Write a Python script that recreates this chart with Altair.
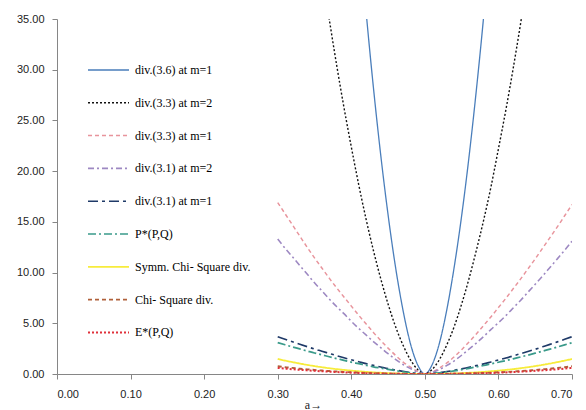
import altair as alt
import pandas as pd

# x positions (a)
a_vals = [round(0.30 + 0.01 * i, 2) for i in range(41)]

series_names = [
    "div.(3.6) at m=1",
    "div.(3.3) at m=2",
    "div.(3.3) at m=1",
    "div.(3.1) at m=2",
    "div.(3.1) at m=1",
    "P*(P,Q)",
    "Symm. Chi- Square div.",
    "Chi- Square div.",
    "E*(P,Q)",
]

N = None
div36_m1 = [N, N, N, N, N, N, N, N, N, N, N,
            44.0, 35.8, 28.3, 21.6, 15.7, 10.6, 6.4, 3.1, 0.94, 0.0,
            0.94, 3.1, 6.4, 10.6, 15.6, 21.4, 28.0, 35.3, 43.5,
            N, N, N, N, N, N, N, N, N, N, N]
div33_m2 = [N, N, N, N, N, 44.5, 39.7, 35.0, 30.5, 26.3, 22.4,
            18.7, 15.3, 12.2, 9.4, 6.9, 4.7, 2.9, 1.45, 0.45, 0.0,
            0.45, 1.45, 2.9, 4.7, 6.9, 9.4, 12.2, 15.2, 18.5, 22.2,
            26.0, 30.1, 34.5, 39.2, 44.0, N, N, N, N, N]
div33_m1 = [16.9, 15.8, 14.7, 13.6, 12.5, 11.45, 10.45, 9.45, 8.5, 7.6,
            6.7, 5.8, 4.95, 4.1, 3.3, 2.55, 1.85, 1.2, 0.7, 0.26, 0.0,
            0.2, 0.6, 1.1, 1.7, 2.4, 3.15, 3.95, 4.8, 5.65, 6.55,
            7.45, 8.4, 9.35, 10.35, 11.35, 12.4, 13.45, 14.5, 15.6, 16.7]
div31_m2 = [13.3, 12.4, 11.55, 10.7, 9.85, 9.0, 8.2, 7.4, 6.65, 5.95,
            5.2, 4.5, 3.85, 3.2, 2.6, 2.0, 1.45, 0.95, 0.55, 0.2, 0.0,
            0.15, 0.45, 0.85, 1.3, 1.85, 2.45, 3.05, 3.7, 4.4, 5.05,
            5.75, 6.5, 7.25, 8.05, 8.85, 9.65, 10.5, 11.35, 12.2, 13.1]
div31_m1 = [3.68, 3.42, 3.18, 2.94, 2.7, 2.46, 2.25, 2.03, 1.81, 1.6,
            1.4, 1.21, 1.02, 0.85, 0.69, 0.53, 0.39, 0.26, 0.15, 0.06, 0.0,
            0.05, 0.13, 0.24, 0.37, 0.51, 0.66, 0.83, 1.0, 1.19, 1.38,
            1.57, 1.78, 2.0, 2.21, 2.44, 2.68, 2.92, 3.17, 3.42, 3.68]
p_star = [3.1, 2.88, 2.67, 2.47, 2.27, 2.07, 1.89, 1.7, 1.52, 1.35,
          1.17, 1.02, 0.86, 0.71, 0.58, 0.45, 0.33, 0.22, 0.13, 0.05, 0.0,
          0.04, 0.11, 0.2, 0.31, 0.43, 0.56, 0.7, 0.84, 1.0, 1.16,
          1.32, 1.5, 1.68, 1.86, 2.05, 2.25, 2.45, 2.66, 2.87, 3.08]
symm_chi = [1.48, 1.32, 1.17, 1.03, 0.9, 0.78, 0.67, 0.57, 0.48, 0.4,
            0.33, 0.27, 0.21, 0.16, 0.12, 0.08, 0.05, 0.03, 0.01, 0.0, 0.0,
            0.0, 0.01, 0.03, 0.05, 0.08, 0.12, 0.16, 0.21, 0.27, 0.33,
            0.4, 0.48, 0.57, 0.67, 0.78, 0.9, 1.03, 1.17, 1.32, 1.48]
chi_sq = [0.76, 0.67, 0.6, 0.52, 0.46, 0.4, 0.34, 0.29, 0.24, 0.2,
          0.17, 0.13, 0.1, 0.08, 0.06, 0.04, 0.03, 0.01, 0.01, 0.0, 0.0,
          0.0, 0.01, 0.01, 0.03, 0.04, 0.06, 0.08, 0.1, 0.13, 0.17,
          0.2, 0.24, 0.29, 0.34, 0.4, 0.46, 0.52, 0.6, 0.67, 0.76]
e_star = [0.6, 0.53, 0.47, 0.41, 0.36, 0.31, 0.27, 0.23, 0.19, 0.16,
          0.13, 0.1, 0.08, 0.06, 0.05, 0.03, 0.02, 0.01, 0.005, 0.0, 0.0,
          0.0, 0.005, 0.01, 0.02, 0.03, 0.05, 0.06, 0.08, 0.1, 0.13,
          0.16, 0.19, 0.23, 0.27, 0.31, 0.36, 0.41, 0.47, 0.53, 0.6]

all_series = [div36_m1, div33_m2, div33_m1, div31_m2, div31_m1,
              p_star, symm_chi, chi_sq, e_star]

colors = ["#4a7ebb", "#111111", "#e8949c", "#9d88c2", "#1f3a68",
          "#3a9a8a", "#f7ec3c", "#b0603a", "#e0303a"]
dashes = [[1, 0], [2, 2], [4, 3], [6, 3, 2, 3], [10, 4, 3, 4],
          [8, 3, 2, 3], [1, 0], [4, 3], [2, 2]]
widths = [1.3, 2.0, 1.6, 1.6, 2.0, 1.6, 2.0, 1.6, 1.6]

rows = []
for name, vals in zip(series_names, all_series):
    for a, v in zip(a_vals, vals):
        if v is not None:
            rows.append({"series": name, "a": a, "value": v})
df = pd.DataFrame(rows)

SERIF = "Times New Roman, Liberation Serif, serif"

legend = alt.Legend(
    orient="none", legendX=30, legendY=43, title=None,
    symbolType="stroke", symbolSize=1681, clipHeight=16, rowPadding=16.8,
    labelFont=SERIF, labelFontSize=12, labelOffset=5,
    labelColor="#000000", padding=0, labelLimit=300,
)

chart = alt.Chart(df).mark_line(clip=True, interpolate="monotone").encode(
    x=alt.X("a:Q", scale=alt.Scale(domain=[0, 0.7], nice=False),
            axis=alt.Axis(values=[0, 0.1, 0.2, 0.3, 0.4, 0.5, 0.6, 0.7],
                          format=".2f", grid=False,
                          domainColor="#868686", tickColor="#868686",
                          tickSize=5, labelPadding=9,
                          labelFont="Liberation Sans", labelFontSize=11,
                          labelColor="#222222",
                          title="a→", titleFont=SERIF,
                          titleFontSize=12, titleFontWeight="normal",
                          titleX=256, titleY=30, titleAlign="center",
                          titleBaseline="middle", titleColor="#222222")),
    y=alt.Y("value:Q", scale=alt.Scale(domain=[0, 35], nice=False),
            axis=alt.Axis(values=[0, 5, 10, 15, 20, 25, 30, 35],
                          format=".2f", grid=False,
                          domainColor="#868686", tickColor="#868686",
                          tickSize=5, labelPadding=8,
                          labelFont="Liberation Sans", labelFontSize=11,
                          labelColor="#222222", title=None)),
    color=alt.Color("series:N", scale=alt.Scale(domain=series_names, range=colors),
                    sort=series_names, legend=legend),
    strokeDash=alt.StrokeDash("series:N", scale=alt.Scale(domain=series_names, range=dashes),
                              sort=series_names, legend=legend),
    strokeWidth=alt.StrokeWidth("series:N", scale=alt.Scale(domain=series_names, range=widths),
                                sort=series_names, legend=legend),
).properties(
    width=515, height=355,
    autosize=alt.AutoSizeParams(type="none"),
    padding={"left": 49, "top": 11, "right": 6, "bottom": 36},
    background="white",
).configure_view(stroke=None).configure_legend(
    labelFont=SERIF, labelFontSize=12, labelColor="#000000"
)

chart.save("out.html", embed_options={"renderer": "svg", "actions": False})
